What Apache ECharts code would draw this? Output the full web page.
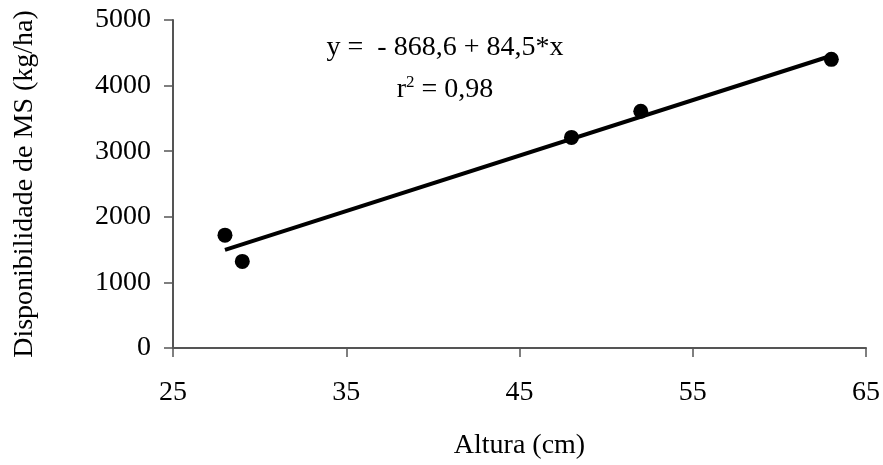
<!DOCTYPE html>
<html><head><meta charset="utf-8">
<script src="https://cdn.jsdelivr.net/npm/echarts@6/dist/echarts.min.js"></script>
<style>html,body{margin:0;padding:0;background:#fff}#c{width:883px;height:465px}</style>
</head><body><div id="c"></div>
<script>
const alturas = [28, 29, 48, 52, 63];
const disponibilidade = [1720, 1320, 3210, 3610, 4400];
const fitLineX = [28, 63];
const fitLineY = [1497, 4455];
const xTicks = [25, 35, 45, 55, 65];
const yTicks = [0, 1000, 2000, 3000, 4000, 5000];
const equation = 'y =  - 868,6 + 84,5*x';
const r2 = ' = 0,98';

const font = 'Liberation Serif';
const chart = echarts.init(document.getElementById('c'));
chart.setOption({
  animation: false,
  backgroundColor: '#fff',
  grid: { left: 173, right: 16, top: 20, bottom: 111, containLabel: false },
  title: {
    text: equation + '\n{r|r}{s|2}{r|' + r2 + '}',
    left: 440, top: 22, textAlign: 'center',
    textStyle: {
      fontFamily: font, fontSize: 28, fontWeight: 'normal', color: '#000', lineHeight: 42,
      rich: {
        r: { fontFamily: font, fontSize: 28, color: '#000', lineHeight: 42 },
        s: { fontFamily: font, fontSize: 17, color: '#000', padding: [0, 0, 15, 0] }
      }
    }
  },
  xAxis: {
    type: 'value', min: xTicks[0], max: xTicks[xTicks.length - 1], interval: 10,
    name: 'Altura (cm)', nameLocation: 'middle', nameGap: 84,
    nameTextStyle: { fontFamily: font, fontSize: 28, color: '#000' },
    axisLine: { lineStyle: { color: '#555', width: 2 } },
    axisTick: { inside: false, length: 9, lineStyle: { color: '#555', width: 1.5 } },
    axisLabel: { fontFamily: font, fontSize: 28, color: '#000', margin: 31, formatter: v => String(v) },
    splitLine: { show: false }
  },
  yAxis: {
    type: 'value', min: yTicks[0], max: yTicks[yTicks.length - 1], interval: 1000,
    name: 'Disponibilidade de MS (kg/ha)', nameLocation: 'middle', nameGap: 134,
    nameTextStyle: { fontFamily: font, fontSize: 28, color: '#000' },
    axisLine: { show: true, lineStyle: { color: '#555', width: 2 } },
    axisTick: { show: true, inside: false, length: 9, lineStyle: { color: '#555', width: 1.5 } },
    axisLabel: { fontFamily: font, fontSize: 28, color: '#000', margin: 22, formatter: v => String(v) },
    splitLine: { show: false }
  },
  series: [
    {
      type: 'line', data: fitLineX.map((x, i) => [x, fitLineY[i]]),
      showSymbol: false, lineStyle: { color: '#000', width: 4 }, z: 2
    },
    {
      type: 'scatter', data: alturas.map((x, i) => [x, disponibilidade[i]]),
      symbol: 'circle', symbolSize: 15, itemStyle: { color: '#000', opacity: 1 }, z: 3
    }
  ]
});
</script></body></html>
